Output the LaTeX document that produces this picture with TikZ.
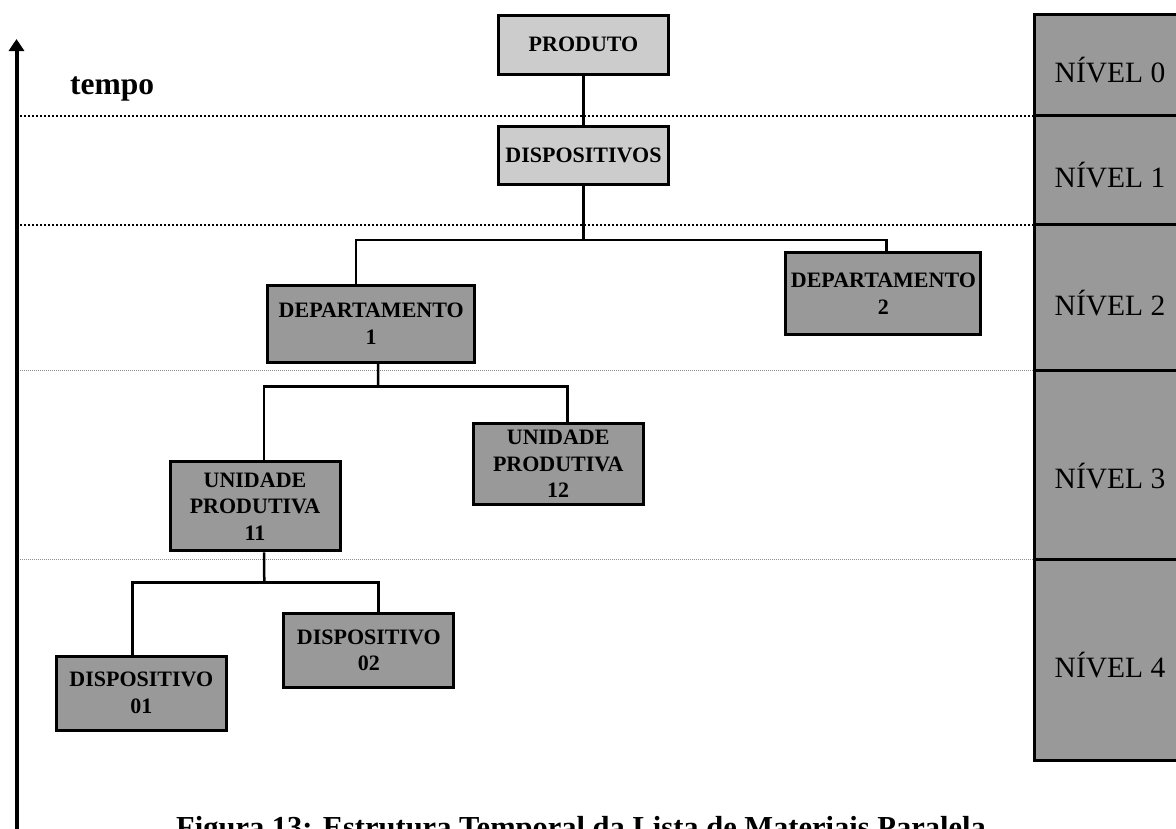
\documentclass[tikz,border=0pt]{standalone}
\usepackage{fontspec}
\setmainfont{Liberation Serif}
\usetikzlibrary{arrows.meta}
\definecolor{cinza}{HTML}{999999}
\definecolor{cinzaclaro}{HTML}{CCCCCC}
\definecolor{pontos}{HTML}{8C8C8C}

\begin{document}
\begin{tikzpicture}[x=1pt,y=-1pt,
	caixa/.style={draw,line width=3pt,fill=cinza,align=center,inner sep=0pt,
		font=\fontsize{22}{26.5}\selectfont\bfseries},
	caixaclara/.style={caixa,fill=cinzaclaro},
	liga/.style={line width=2.5pt},
	coluna/.style={draw,fill=cinza,line width=3pt},
	nivel/.style={anchor=base,inner sep=0pt,font=\fontsize{29.5}{30}\selectfont},
	pontilhado/.style={line width=2pt,dash pattern=on 2pt off 2pt},
	pontilhadofino/.style={line width=1pt,pontos,dash pattern=on 1pt off 1pt}]
		\useasboundingbox (0,0) rectangle (1176,828);
		% linhas dos niveis
		\foreach \y in {115.5,224.5}
		\draw[pontilhado] (20,\y) -- (1034.5,\y);
		\foreach \y in {370,559}
		\draw[pontilhadofino] (20,\y) -- (1034.5,\y);
		% coluna dos niveis
		\foreach \n/\a/\b/\y in {0/14/115.5/82,1/115.5/224.5/187,2/224.5/370/315,3/370/559/488,4/559/760/677}{
		\draw[coluna] (1034.5,\a) rectangle (1195,\b);
		\node[nivel] (nivel\n) at (1110,\y) {NÍVEL \n};
		}
		% eixo do tempo
		\coordinate (base) at (16.5,840);
		\coordinate (topo) at (16.5,39);
		\draw[line width=4pt,-{Triangle[width=15pt,length=12pt]}] (base) -- (topo);
		\node[anchor=base west,inner sep=0pt,font=\fontsize{31.5}{32}\selectfont\bfseries] (tempo) at (70,94.3) {tempo};
		% caixas
		\node[caixaclara,minimum width=170pt,minimum height=59pt] (produto) at (583.5,44.5) {PRODUTO};
		\node[caixaclara,minimum width=170pt,minimum height=58pt] (dispositivos) at (583.5,155) {DISPOSITIVOS};
		\node[caixa,minimum width=207pt,minimum height=77pt] (dep1) at (371.2,323.7) {DEPARTAMENTO\\1};
		\node[caixa,minimum width=195pt,minimum height=82pt] (dep2) at (883.4,293.7) {DEPARTAMENTO\\2};
		\node[caixa,minimum width=170pt,minimum height=89pt] (up11) at (255,506.3) {UNIDADE\\PRODUTIVA\\11};
		\node[caixa,minimum width=170pt,minimum height=81pt] (up12) at (558.2,464) {UNIDADE\\PRODUTIVA\\12};
		\node[caixa,minimum width=170pt,minimum height=74pt] (disp01) at (141.3,693) {DISPOSITIVO\\01};
		\node[caixa,minimum width=170pt,minimum height=74pt] (disp02) at (368.8,650.5) {DISPOSITIVO\\02};
		% ligacoes
		\coordinate (ramo1) at (583.5,240);
		\coordinate (ramo2) at (378,386.7);
		\coordinate (ramo3) at (264.3,582.3);
		\draw[liga] (produto) -- (dispositivos);
		\draw[liga] (dispositivos) -- (ramo1);
		\draw[liga] ([xshift=-15pt]dep1.north) |- (ramo1) -| ([xshift=3pt]dep2.north);
		\draw[liga] ([xshift=7pt]dep1.south) -- (ramo2);
		\draw[liga] ([xshift=9pt]up11.north) |- (ramo2) -| ([xshift=9.5pt]up12.north);
		\draw[liga] ([xshift=9pt]up11.south) -- (ramo3);
		\draw[liga] ([xshift=-9pt]disp01.north) |- (ramo3) -| ([xshift=9.5pt]disp02.north);
		% legenda
		\node[anchor=base,inner sep=0pt,font=\fontsize{30.5}{31}\selectfont\bfseries] (legenda) at (581,837) {Figura 13: Estrutura Temporal da Lista de Materiais Paralela};
\end{tikzpicture}
\end{document}
